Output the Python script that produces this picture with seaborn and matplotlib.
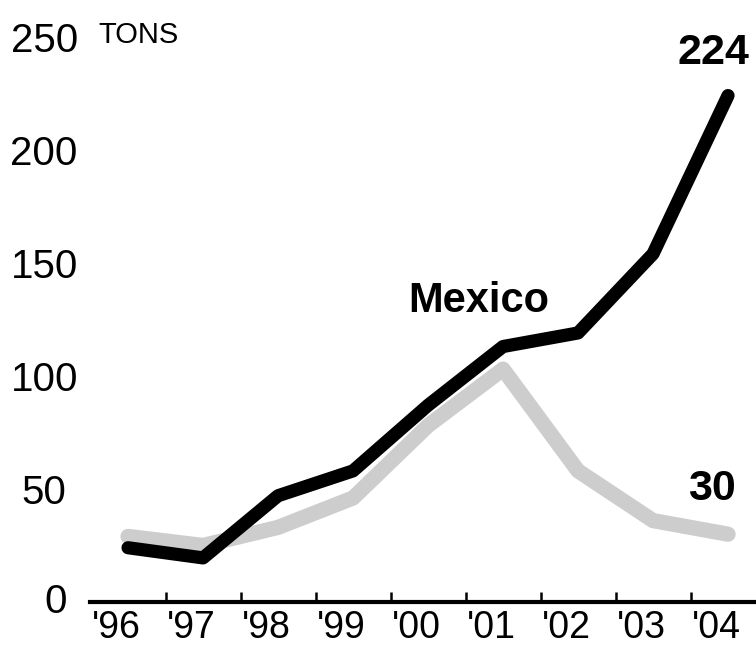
import matplotlib
matplotlib.use("Agg")
import matplotlib.pyplot as plt
import matplotlib.transforms as mtransforms
import seaborn as sns
import pandas as pd

years = [1996, 1997, 1998, 1999, 2000, 2001, 2002, 2003, 2004]
year_labels = ["'96", "'97", "'98", "'99", "'00", "'01", "'02", "'03", "'04"]
mexico = [24, 19.5, 47, 58, 87, 113, 119, 154, 224]
other = [29, 25, 33, 46, 78, 103, 58, 36, 30]
y_ticks = [0, 50, 100, 150, 200, 250]

sns.set_theme(style="white")
plt.rcParams['font.family'] = ['Liberation Sans', 'DejaVu Sans']
plt.rcParams['text.color'] = 'black'
plt.rcParams['xtick.color'] = 'black'
plt.rcParams['ytick.color'] = 'black'

df = pd.DataFrame({
    "year": years * 2,
    "tons": mexico + other,
    "series": ["Mexico"] * len(years) + ["Other"] * len(years),
})

W, H = 756, 647
fig = plt.figure(figsize=(W / 100, H / 100), dpi=100)
ax = fig.add_axes([90 / W, (H - 602) / H, 1 - 90 / W, (602 - 30) / H])

sns.lineplot(data=df[df.series == "Other"], x="year", y="tons", ax=ax,
             color="#cdcdcd", linewidth=11, legend=False,
             solid_capstyle="round", solid_joinstyle="round")
sns.lineplot(data=df[df.series == "Mexico"], x="year", y="tons", ax=ax,
             color="black", linewidth=9.5, legend=False,
             solid_capstyle="round", solid_joinstyle="round")

ax.set_xlim(1995.493, 2004.373)
ax.set_ylim(0, 253)
ax.set_xlabel("")
ax.set_ylabel("")

for s in ["top", "right", "left"]:
    ax.spines[s].set_visible(False)
ax.spines["bottom"].set_linewidth(3)
ax.spines["bottom"].set_color("black")

ax.set_xticks(years)
ax.set_xticklabels(year_labels, fontsize=27)
ax.set_xticks([y + 0.5 for y in years[:-1]], minor=True)
ax.tick_params(axis="x", which="major", length=0, pad=6, colors="black")
ax.tick_params(axis="x", which="minor", direction="in", length=7, width=1.8,
               color="black", bottom=True)
shift = mtransforms.ScaledTranslation(-12 / 100, 0, fig.dpi_scale_trans)
for lab in ax.get_xticklabels():
    lab.set_transform(lab.get_transform() + shift)

ax.set_yticks(y_ticks)
ax.set_yticklabels(["" if v == 0 else str(v) for v in y_ticks], fontsize=29)
ax.tick_params(axis="y", length=0, pad=33, colors="black")
for lab in ax.get_yticklabels():
    lab.set_horizontalalignment("center")
ax.annotate(str(y_ticks[0]), xy=(0, y_ticks[0]),
            xycoords=("axes fraction", "data"), xytext=(-34, 0),
            textcoords="offset pixels", ha="center", va="center", fontsize=29)

fig.text(98 / W, 1 - 35 / H, "TONS", fontsize=21, ha="left", va="center")
ax.text(years[-1] - 0.19, mexico[-1] + 19, str(mexico[-1]), fontsize=31,
        fontweight="bold", ha="center", va="center")
ax.text(years[-1] - 0.21, other[-1] + 20, str(other[-1]), fontsize=31,
        fontweight="bold", ha="center", va="center")
ax.text(2000.68, 133, "Mexico", fontsize=30, fontweight="bold",
        ha="center", va="center")

fig.savefig("out.png", dpi=100)
